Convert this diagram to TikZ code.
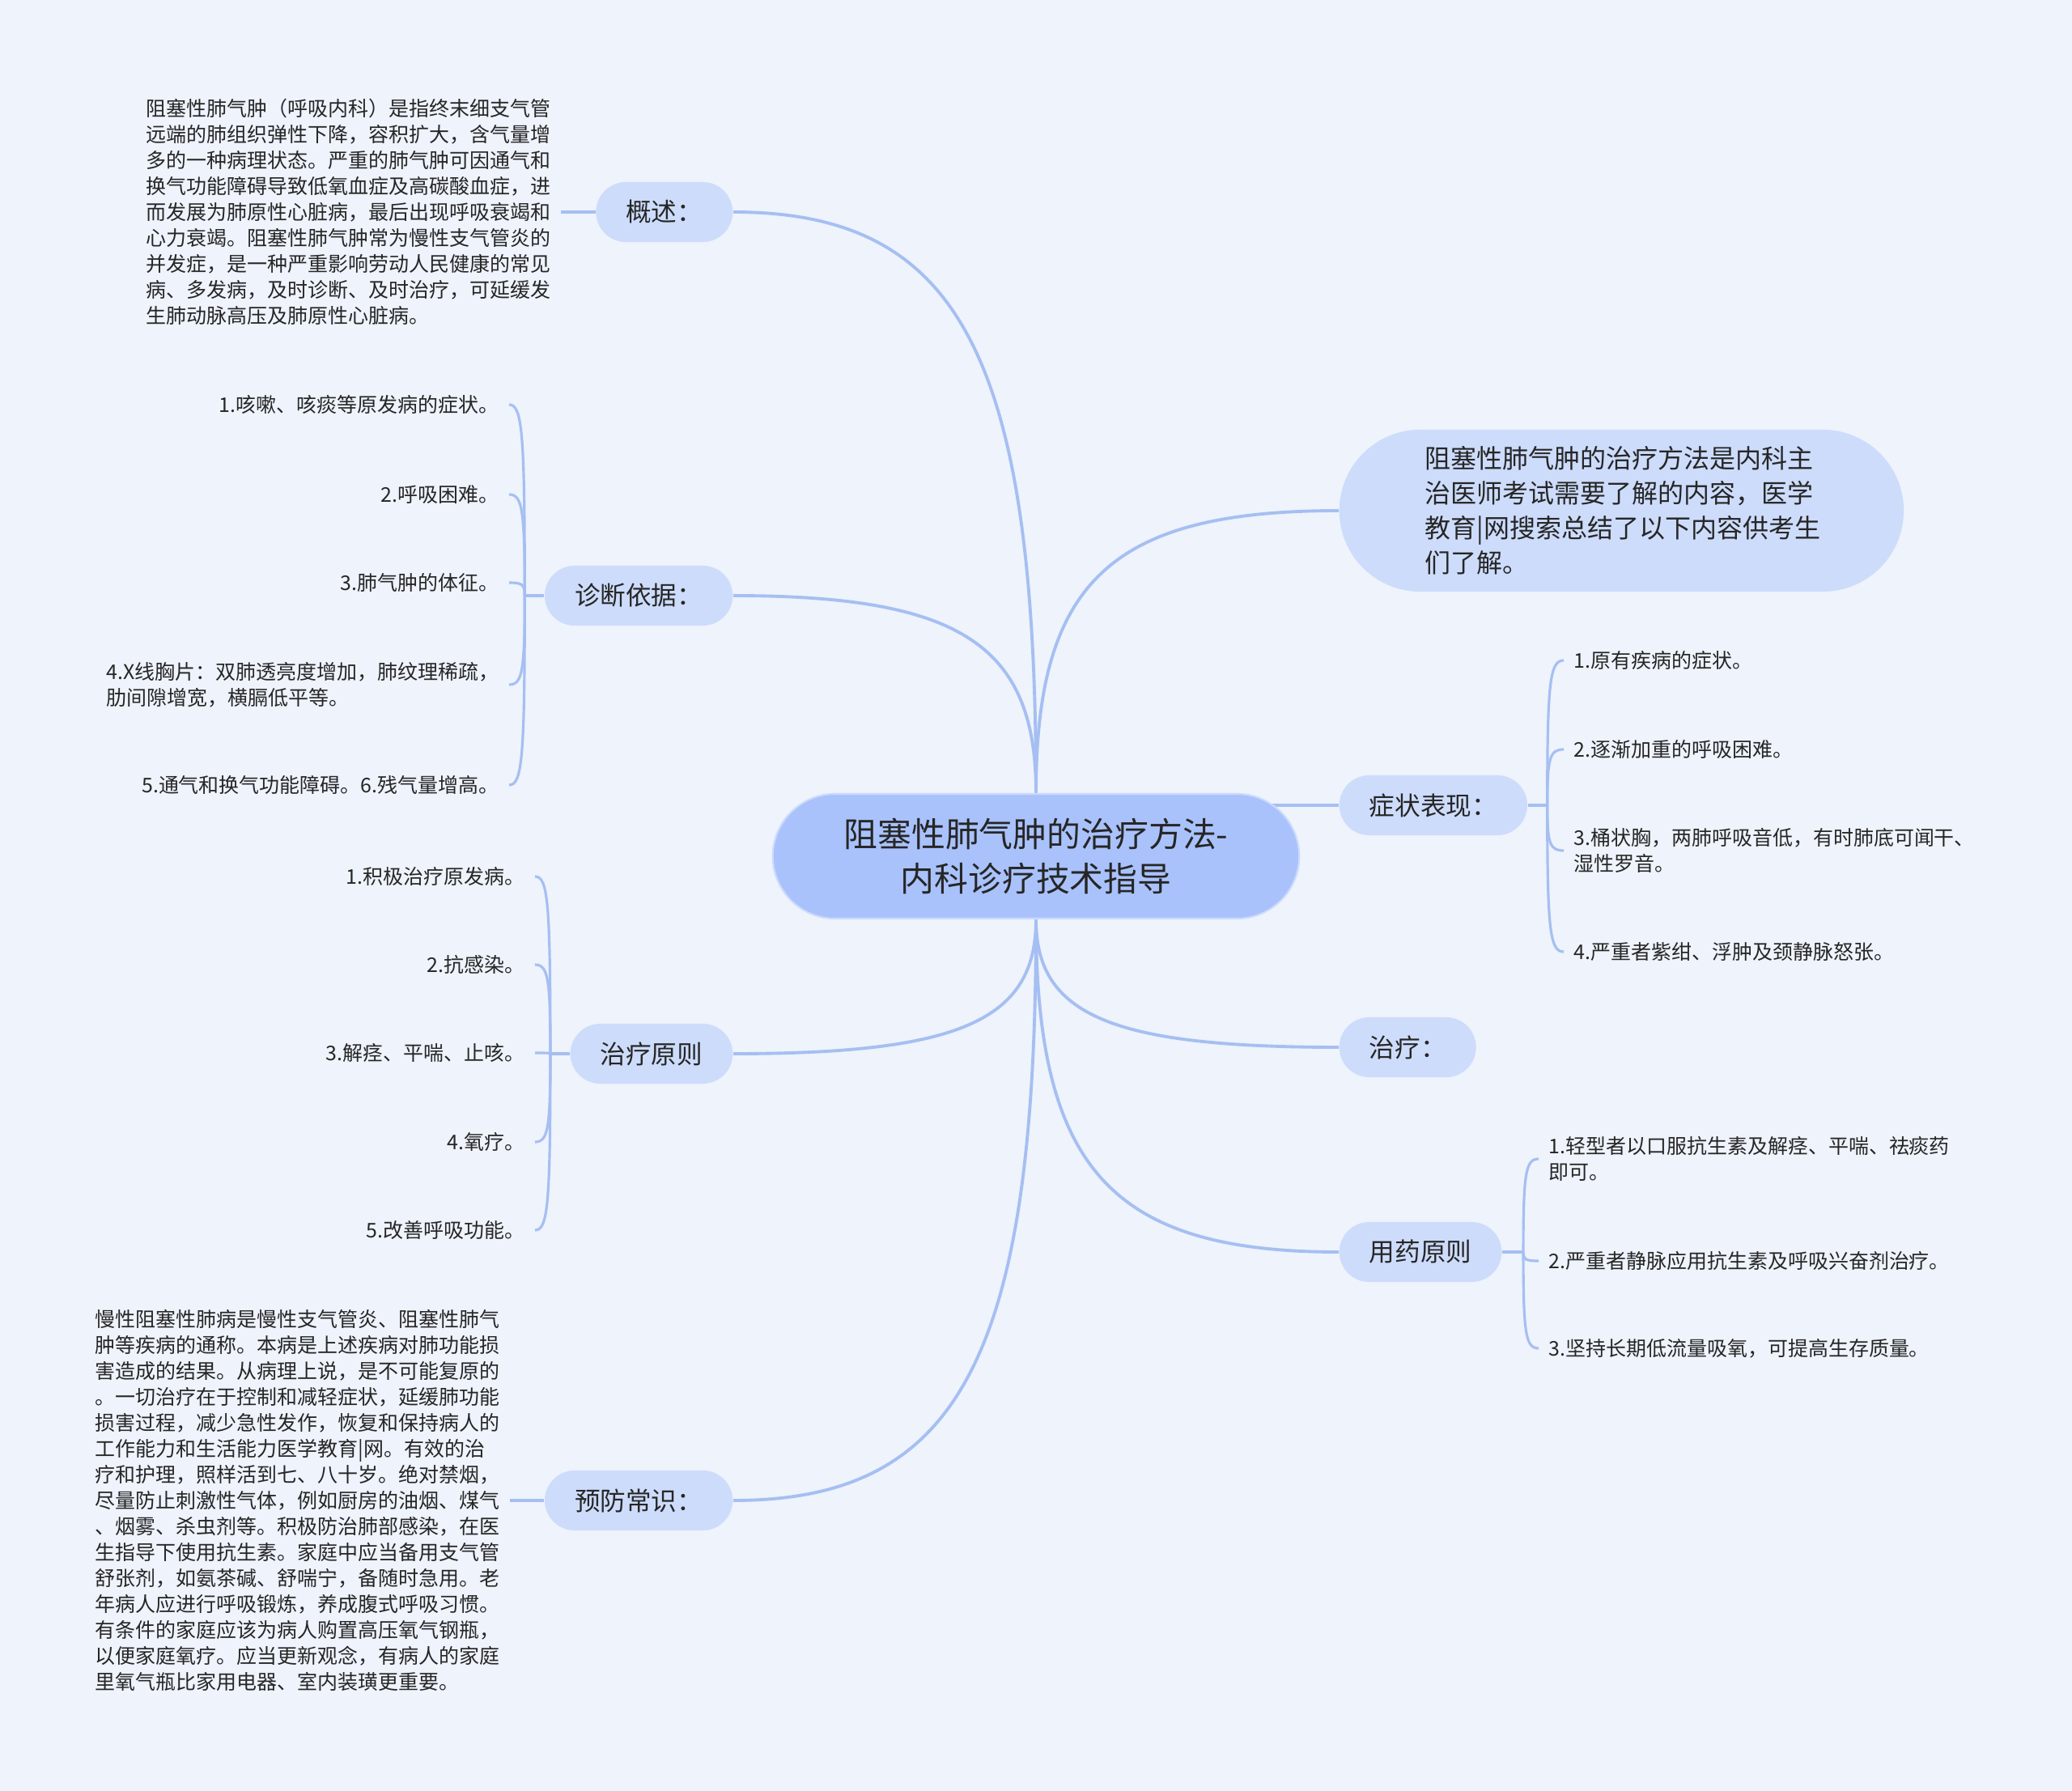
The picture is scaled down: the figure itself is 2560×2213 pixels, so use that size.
\documentclass[tikz,border=0pt]{standalone}
\usepackage{fontspec}
\setmainfont{Noto Sans CJK SC}
\usetikzlibrary{positioning,calc,backgrounds}
\definecolor{paper}{HTML}{EEF3FC}
\definecolor{rootfill}{HTML}{A9C2FB}
\definecolor{topicfill}{HTML}{CDDCFB}
\definecolor{wirecol}{HTML}{A6BFF2}
\definecolor{ink}{HTML}{262626}
\tikzset{
  rootbox/.style={fill=rootfill,draw=rootfill!60!white,line width=0.6pt,rounded corners=0.77cm,
    minimum width=6.5cm,minimum height=1.54cm,align=center,text=ink,
    font=\fontsize{11.9}{15.7}\selectfont},
  topic/.style={fill=topicfill,rounded corners=0.37cm,minimum height=0.74cm,inner xsep=0.37cm,
    inner ysep=0.05cm,text=ink,font=\fontsize{9}{11}\selectfont},
  leaf/.style={inner xsep=0.12cm,inner ysep=0.05cm,align=left,text=ink,
    font=\fontsize{7.1}{9.1}\selectfont},
  wire/.style={draw=wirecol,line width=1.1pt},
  twig/.style={draw=wirecol,line width=0.9pt},
  curvy/.style={to path={.. controls ($(\tikztostart)!#1!(\tikztostart|-\tikztotarget)$)
    and ($(\tikztotarget)!#1!(\tikztostart|-\tikztotarget)$) .. (\tikztotarget)}},
  curvy/.default=0.75,
}
\begin{document}
\begin{tikzpicture}[x=0.01cm,y=-0.01cm]
  % centre
  \node[rootbox] (root) at (1280,1058) {阻塞性肺气肿的治疗方法-\\内科诊疗技术指导};
  % left topics
  \node[topic,anchor=east] (gaishu) at (906,262) {概述：};
  \node[topic,anchor=east] (zhenduan) at (906,736) {诊断依据：};
  \node[topic,anchor=east] (yuanze) at (906,1302) {治疗原则};
  \node[topic,anchor=east] (yufang) at (906,1854) {预防常识：};
  % right topics
  \node[topic,anchor=west,minimum width=6.97cm,minimum height=2cm,rounded corners=1cm,
    text width=4.85cm,align=left,inner xsep=1.03cm,font=\fontsize{9.1}{12.2}\selectfont]
    (intro) at (1654,631)
    {阻塞性肺气肿的治疗方法是内科主\\治医师考试需要了解的内容，医学\\教育|网搜索总结了以下内容供考生\\们了解。};
  \node[topic,anchor=west] (zhengzhuang) at (1654,995) {症状表现：};
  \node[topic,anchor=west] (zhiliao) at (1654,1294) {治疗：};
  \node[topic,anchor=west] (yongyao) at (1654,1547) {用药原则};

  % overview text
  \node[leaf,anchor=east] (gs-1) at (693,262)
    {阻塞性肺气肿（呼吸内科）是指终末细支气管\\远端的肺组织弹性下降，容积扩大，含气量增\\多的一种病理状态。严重的肺气肿可因通气和\\换气功能障碍导致低氧血症及高碳酸血症，进\\而发展为肺原性心脏病，最后出现呼吸衰竭和\\心力衰竭。阻塞性肺气肿常为慢性支气管炎的\\并发症，是一种严重影响劳动人民健康的常见\\病、多发病，及时诊断、及时治疗，可延缓发\\生肺动脉高压及肺原性心脏病。};
  % diagnosis
  \node[leaf,anchor=east] (zd-1) at (629,500) {1.咳嗽、咳痰等原发病的症状。};
  \node[leaf,anchor=east] (zd-2) at (629,611) {2.呼吸困难。};
  \node[leaf,anchor=east] (zd-3) at (629,720) {3.肺气肿的体征。};
  \node[leaf,anchor=east] (zd-4) at (629,846) {4.X线胸片：双肺透亮度增加，肺纹理稀疏，\\肋间隙增宽，横膈低平等。};
  \node[leaf,anchor=east] (zd-5) at (629,970) {5.通气和换气功能障碍。6.残气量增高。};
  % principles
  \node[leaf,anchor=east] (yz-1) at (661,1083) {1.积极治疗原发病。};
  \node[leaf,anchor=east] (yz-2) at (661,1192) {2.抗感染。};
  \node[leaf,anchor=east] (yz-3) at (661,1301) {3.解痉、平喘、止咳。};
  \node[leaf,anchor=east] (yz-4) at (661,1411) {4.氧疗。};
  \node[leaf,anchor=east] (yz-5) at (661,1520) {5.改善呼吸功能。};
  % prevention text
  \node[leaf,anchor=east] (yf-1) at (630,1854)
    {慢性阻塞性肺病是慢性支气管炎、阻塞性肺气\\肿等疾病的通称。本病是上述疾病对肺功能损\\害造成的结果。从病理上说，是不可能复原的\\。一切治疗在于控制和减轻症状，延缓肺功能\\损害过程，减少急性发作，恢复和保持病人的\\工作能力和生活能力医学教育|网。有效的治\\疗和护理，照样活到七、八十岁。绝对禁烟，\\尽量防止刺激性气体，例如厨房的油烟、煤气\\、烟雾、杀虫剂等。积极防治肺部感染，在医\\生指导下使用抗生素。家庭中应当备用支气管\\舒张剂，如氨茶碱、舒喘宁，备随时急用。老\\年病人应进行呼吸锻炼，养成腹式呼吸习惯。\\有条件的家庭应该为病人购置高压氧气钢瓶，\\以便家庭氧疗。应当更新观念，有病人的家庭\\里氧气瓶比家用电器、室内装璜更重要。};
  % symptoms
  \node[leaf,anchor=west] (zz-1) at (1932,816) {1.原有疾病的症状。};
  \node[leaf,anchor=west] (zz-2) at (1932,926) {2.逐渐加重的呼吸困难。};
  \node[leaf,anchor=west] (zz-3) at (1932,1051) {3.桶状胸，两肺呼吸音低，有时肺底可闻干、\\湿性罗音。};
  \node[leaf,anchor=west] (zz-4) at (1932,1176) {4.严重者紫绀、浮肿及颈静脉怒张。};
  % drugs
  \node[leaf,anchor=west] (yy-1) at (1901,1432) {1.轻型者以口服抗生素及解痉、平喘、祛痰药\\即可。};
  \node[leaf,anchor=west] (yy-2) at (1901,1558) {2.严重者静脉应用抗生素及呼吸兴奋剂治疗。};
  \node[leaf,anchor=west] (yy-3) at (1901,1666) {3.坚持长期低流量吸氧，可提高生存质量。};

  \begin{scope}[on background layer]
    \fill[paper] (0,0) rectangle (2560,2213);
    % main branches
    \draw[wire] (root.north) to[curvy] (gaishu.east);
    \draw[wire] (root.north) to[curvy] (zhenduan.east);
    \draw[wire] (root.north) to[curvy] (intro.west);
    \draw[wire] (root.center |- zhengzhuang.west) -- (zhengzhuang.west);
    \draw[wire] (root.south) to[curvy] (zhiliao.west);
    \draw[wire] (root.south) to[curvy] (yongyao.west);
    \draw[wire] (root.south) to[curvy] (yuanze.east);
    \draw[wire] (root.south) to[curvy] (yufang.east);
    % sub branches
    \draw[twig] (gs-1.east) -- (gaishu.west);
    \draw[twig] (yf-1.east) -- (yufang.west);
    \coordinate (zd-j) at ($(zhenduan.west)+(-24,0)$);
    \draw[twig] (zhenduan.west) -- (zd-j);
    \foreach \n in {1,...,5} \draw[twig] (zd-j) to[curvy=0.85] (zd-\n.east);
    \coordinate (yz-j) at ($(yuanze.west)+(-24,0)$);
    \draw[twig] (yuanze.west) -- (yz-j);
    \foreach \n in {1,...,5} \draw[twig] (yz-j) to[curvy=0.85] (yz-\n.east);
    \coordinate (zz-j) at ($(zhengzhuang.east)+(24,0)$);
    \draw[twig] (zhengzhuang.east) -- (zz-j);
    \foreach \n in {1,...,4} \draw[twig] (zz-j) to[curvy=0.85] (zz-\n.west);
    \coordinate (yy-j) at ($(yongyao.east)+(26,0)$);
    \draw[twig] (yongyao.east) -- (yy-j);
    \foreach \n in {1,...,3} \draw[twig] (yy-j) to[curvy=0.85] (yy-\n.west);
  \end{scope}
\end{tikzpicture}
\end{document}
